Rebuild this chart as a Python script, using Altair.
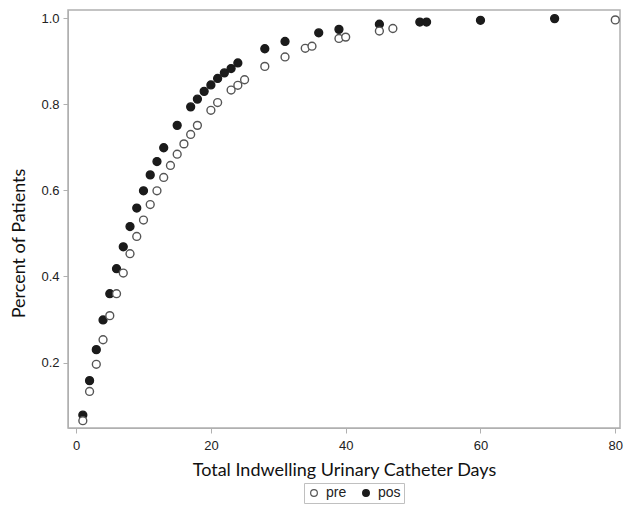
import altair as alt
import pandas as pd

pos_days = [1, 2, 3, 4, 5, 6, 7, 8, 9, 10, 11, 12, 13, 15, 17, 18, 19, 20, 21, 22, 23, 24, 28, 31, 36, 39, 45, 51, 52, 60, 71]
pos_vals = [0.078, 0.158, 0.230, 0.299, 0.360, 0.418, 0.469, 0.516, 0.559, 0.599, 0.636, 0.667, 0.699, 0.751, 0.794, 0.812, 0.830, 0.845, 0.860, 0.873, 0.883, 0.896, 0.929, 0.946, 0.966, 0.974, 0.986, 0.991, 0.991, 0.995, 0.999]

pre_days = [1, 2, 3, 4, 5, 6, 7, 8, 9, 10, 11, 12, 13, 14, 15, 16, 17, 18, 20, 21, 23, 24, 25, 28, 31, 34, 35, 39, 40, 45, 47, 80]
pre_vals = [0.065, 0.133, 0.196, 0.253, 0.309, 0.360, 0.408, 0.453, 0.493, 0.531, 0.567, 0.599, 0.630, 0.658, 0.684, 0.708, 0.730, 0.751, 0.786, 0.804, 0.833, 0.844, 0.857, 0.888, 0.910, 0.930, 0.935, 0.953, 0.956, 0.970, 0.976, 0.996]

x_ticks = [0, 20, 40, 60, 80]
y_ticks = [0.2, 0.4, 0.6, 0.8, 1.0]
groups = ["pre", "pos"]

df = pd.concat([
    pd.DataFrame({"day": pos_days, "pct": pos_vals, "grp": "pos"}),
    pd.DataFrame({"day": pre_days, "pct": pre_vals, "grp": "pre"}),
], ignore_index=True)

label_font = "Liberation Sans Narrow, Liberation Sans, Arial"
title_font = "Lato"

chart = alt.Chart(df).mark_circle(size=62, strokeWidth=1.4, opacity=1).encode(
    x=alt.X("day:Q",
            scale=alt.Scale(domain=[-1.2, 80.7], nice=False, zero=False),
            axis=alt.Axis(values=x_ticks, title="Total Indwelling Urinary Catheter Days",
                          grid=False, format="d")),
    y=alt.Y("pct:Q",
            scale=alt.Scale(domain=[0.048, 1.019], nice=False, zero=False),
            axis=alt.Axis(values=y_ticks, title="Percent of Patients",
                          grid=False, format=".1f", titleY=233)),
    fill=alt.Fill("grp:N", scale=alt.Scale(domain=groups, range=["#ffffff", "#1b1b1b"]),
                  legend=alt.Legend(title=None, orient="none", legendX=236, legendY=473,
                                    direction="horizontal", strokeColor="#c0c0c0",
                                    padding=3, symbolType="circle", symbolSize=45,
                                    symbolStrokeWidth=1.2, labelFontSize=14,
                                    labelFont=label_font, labelColor="#222222",
                                    columnPadding=12, labelOffset=5)),
    stroke=alt.Stroke("grp:N", scale=alt.Scale(domain=groups, range=["#555555", "#1b1b1b"]),
                      legend=None),
).properties(
    width=552,
    height=418,
    autosize=alt.AutoSizeParams(type="none"),
    padding={"left": 60, "top": 2, "right": 8, "bottom": 78},
).configure_view(
    stroke="#b0b0b0", strokeWidth=1.5
).configure_axis(
    domainColor="#b0b0b0", tickColor="#b0b0b0", tickSize=5,
    labelFont=label_font, labelFontSize=13, labelColor="#222222",
    titleFont=title_font, titleFontSize=18, titleFontWeight="normal", titleColor="#111111",
).configure_axisX(
    labelPadding=6, titlePadding=9
).configure_axisY(
    labelPadding=4, titlePadding=12
)

chart.save("out.html", embed_options={"renderer": "svg", "actions": False})
